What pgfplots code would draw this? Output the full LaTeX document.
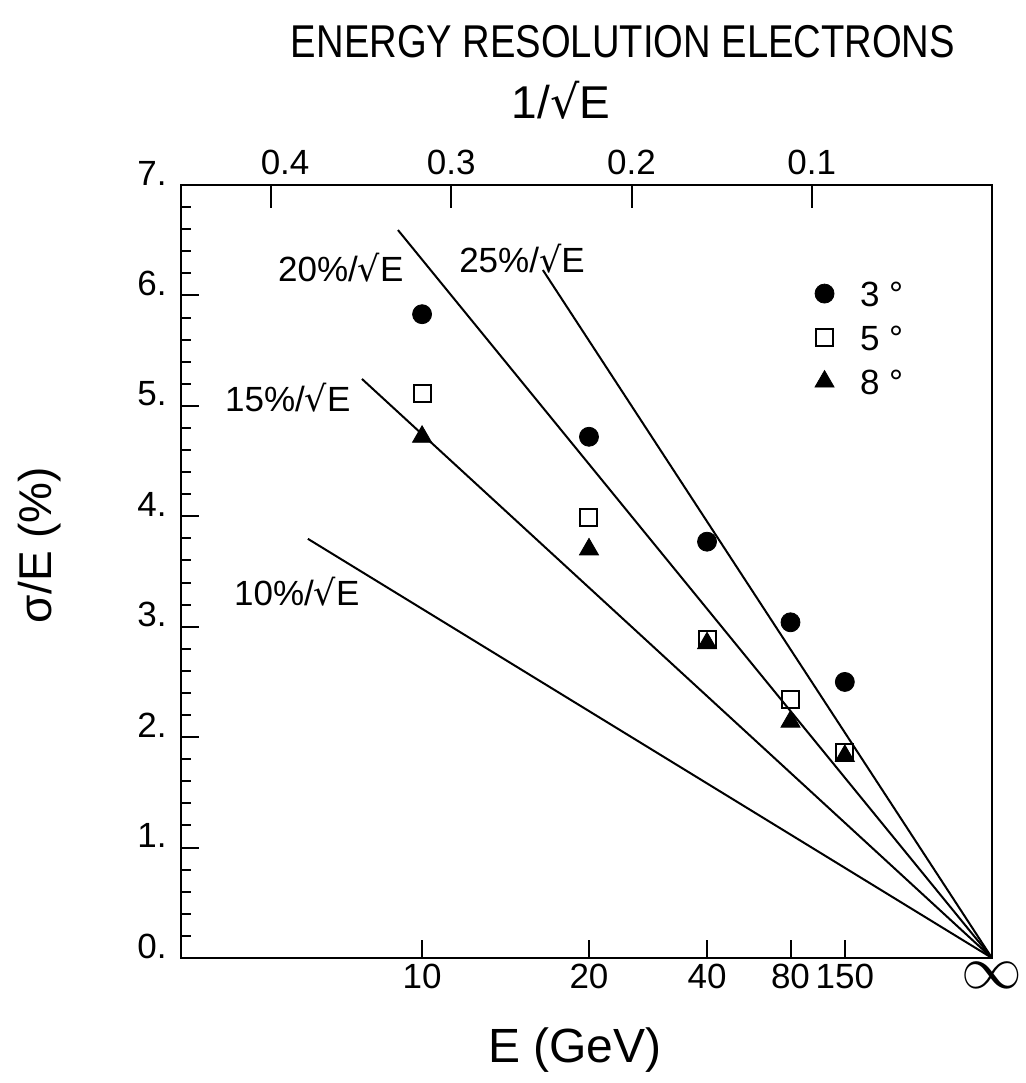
\documentclass[border=0pt]{standalone}
\usepackage{fontspec}
\setmainfont{Liberation Sans}
\newfontfamily\symfont{DejaVu Sans}
\newfontfamily\narrowfont[FakeStretch=0.83]{Liberation Sans}
\usepackage{pgfplots}
\pgfplotsset{compat=1.18}
\usetikzlibrary{calc}

\newcommand{\rt}{{\symfont √}}
\newcommand{\tickfont}{\fontsize{17.5}{20}\selectfont}

\begin{document}
\begin{tikzpicture}
% lower axis: E in GeV, plotted against 1/sqrt(E)
\begin{axis}[
  name=main,
  scale only axis, width=405.5pt, height=386.5pt,
  xmin=0, xmax=0.45, ymin=0, ymax=7, x dir=reverse,
  axis line style={line width=1.3pt},
  tick align=inside,
  tick style={line width=1pt, black},
  major tick length=9pt, minor tick length=5pt,
  xtick pos=bottom, ytick pos=left,
  xtick={0,0.08165,0.11180,0.15811,0.22361,0.31623},
  xticklabels={{\scalebox{1.22}{\fontsize{28}{28}\selectfont$\infty$}},150,80,40,20,10},
  xticklabel style={font=\tickfont, text height=12.6pt, text depth=0pt, inner sep=0pt, yshift=-2.5pt},
  ytick={0,1,...,7},
  yticklabels={0.,1.,2.,3.,4.,5.,6.,7.},
  minor y tick num=4,
  yticklabel style={font=\tickfont, anchor=base east, inner sep=0pt, xshift=-7pt},
  legend style={draw=none, fill=none, inner sep=0pt, outer sep=0pt,
    at={(axis cs:0.0982,6.13)}, anchor=north west,
    row sep=9.5pt, font=\tickfont,
    nodes={inner sep=0pt, text height=12.5pt, text depth=0pt},
    /tikz/every odd column/.append style={column sep=13pt}},
  legend cell align=left,
]
% resolution lines a/sqrt(E)
\addplot[forget plot, black, line width=1pt] coordinates {(0.3796,3.796) (0,0)};
\addplot[forget plot, black, line width=1pt] coordinates {(0.3496,5.244) (0,0)};
\addplot[forget plot, black, line width=1pt] coordinates {(0.3296,6.592) (0,0)};
\addplot[forget plot, black, line width=1pt] coordinates {(0.2492,6.230) (0,0)};

% measured resolution
\addplot[only marks, black, mark=*, mark size=4.75pt] coordinates {
  (0.31623,5.83) (0.22361,4.72) (0.15811,3.77) (0.11180,3.04) (0.08165,2.50)};
\addlegendentry{3 °}
\addplot[only marks, black, mark=square, mark size=4.25pt, mark options={line width=1pt}] coordinates {
  (0.31623,5.11) (0.22361,3.99) (0.15811,2.88) (0.11180,2.34) (0.08165,1.86)};
\addlegendentry{5 °}
\addplot[only marks, black, mark=triangle*, mark size=5.5pt] coordinates {
  (0.31623,4.72) (0.22361,3.70) (0.15811,2.85) (0.11180,2.14) (0.08165,1.83)};
\addlegendentry{8 °}

\node[font=\tickfont] at (axis cs:0.3613,6.25) {20\%/\rt E};
\node[font=\tickfont] at (axis cs:0.2608,6.33) {25\%/\rt E};
\node[font=\tickfont] at (axis cs:0.3907,5.07) {15\%/\rt E};
\node[font=\tickfont] at (axis cs:0.3857,3.32) {10\%/\rt E};
\end{axis}

% upper axis: 1/sqrt(E)
\begin{axis}[
  at={(main.south west)}, anchor=south west,
  scale only axis, width=405.5pt, height=386.5pt,
  xmin=0, xmax=0.45, ymin=0, ymax=7, x dir=reverse,
  axis x line*=top, axis y line=none,
  x axis line style={-, line width=1.3pt},
  tick align=inside, major tick length=11.5pt,
  tick style={line width=1pt, black},
  xtick={0.1,0.2,0.3,0.4}, xticklabels={0.1,0.2,0.3,\hspace*{14pt}0.4},
  xticklabel style={font=\tickfont, anchor=south, inner sep=0pt, yshift=5pt},
]
\end{axis}

\node[font=\narrowfont\fontsize{23}{26}\selectfont] at ([xshift=221pt,yshift=458pt]main.south west) {ENERGY RESOLUTION ELECTRONS};
\node[font=\fontsize{23}{26}\selectfont] at ([xshift=190pt,yshift=429pt]main.south west) {1/\rt E};
\node[font=\fontsize{24}{26}\selectfont] at ([xshift=197pt,yshift=-46pt]main.south west) {E (GeV)};
\node[font=\fontsize{23}{26}\selectfont, rotate=90] at ([xshift=-70.5pt,yshift=206.5pt]main.south west) {σ/E (\%)};

\pgfresetboundingbox
\path[use as bounding box] ([xshift=-90.5pt,yshift=-62.5pt]main.south west) rectangle ([xshift=422.5pt,yshift=479pt]main.south west);
\end{tikzpicture}
\end{document}
